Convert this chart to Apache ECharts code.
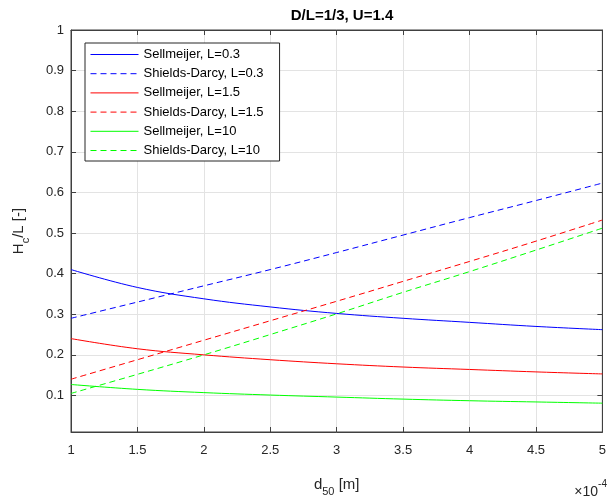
<!DOCTYPE html>
<html><head><meta charset="utf-8">
<script src="https://cdn.jsdelivr.net/npm/echarts@6/dist/echarts.min.js"></script>
<style>html,body{margin:0;padding:0;background:#fff}#c{width:609px;height:502px}</style>
</head><body><div id="c"></div>
<script>
const d50 = [1, 1.5, 2, 2.5, 3, 3.5, 4, 4.5, 5];
const sellL03 = [0.410, 0.366, 0.338, 0.318, 0.302, 0.290, 0.280, 0.270, 0.262];
const shieldsL03 = [0.290, 0.330, 0.370, 0.410, 0.452, 0.495, 0.538, 0.580, 0.623];
const sellL15 = [0.240, 0.215, 0.200, 0.188, 0.178, 0.170, 0.164, 0.158, 0.153];
const shieldsL15 = [0.140, 0.188, 0.236, 0.284, 0.332, 0.381, 0.430, 0.480, 0.532];
const sellL10 = [0.127, 0.115, 0.107, 0.101, 0.096, 0.091, 0.087, 0.084, 0.081];
const shieldsL10 = [0.105, 0.152, 0.200, 0.250, 0.301, 0.354, 0.405, 0.458, 0.512];
const yTicks = [0.1, 0.2, 0.3, 0.4, 0.5, 0.6, 0.7, 0.8, 0.9, 1];
const yMin = 0.01, yMax = 1, xMin = 1, xMax = 5, xStep = 0.5;
const names = ['Sellmeijer, L=0.3','Shields-Darcy, L=0.3','Sellmeijer, L=1.5','Shields-Darcy, L=1.5','Sellmeijer, L=10','Shields-Darcy, L=10'];

const FONT = '"Liberation Sans", Arial, sans-serif';
const axCol = '#404040';
const gridCol = '#e3e3e3';
function mk(name, vals, color, dashed) {
  return {
    name, type: 'line', xAxisIndex: 0, yAxisIndex: 0,
    data: d50.map((x, i) => [x, vals[i]]),
    smooth: 0.4, showSymbol: false, symbol: 'none',
    lineStyle: { color, width: 1, type: dashed ? [6, 4] : 'solid' },
    itemStyle: { color }, animation: false
  };
}
const chart = echarts.init(document.getElementById('c'), null, { renderer: 'canvas' });
const xCommon = { type: 'value', min: xMin, max: xMax, interval: xStep };
const yCommon = { type: 'value', min: yMin, max: yMax,
  axisTick: { inside: true, length: 5, customValues: yTicks, lineStyle: { color: axCol } },
  axisLabel: { customValues: yTicks } };
chart.setOption({
  animation: false,
  textStyle: { fontFamily: FONT },
  title: { text: 'D/L=1/3, U=1.4', left: 337, top: 3, textAlign: 'center',
    textStyle: { fontSize: 15, fontWeight: 'bold', color: '#000', fontFamily: FONT } },
  grid: { left: 71, right: 5, top: 30, bottom: 56, show: true, borderColor: axCol, borderWidth: 1, backgroundColor: '#fff' },
  legend: {
    orient: 'vertical', left: 85, top: 43, data: names,
    itemWidth: 48, itemHeight: 14, itemGap: 6.2, padding: [5, 16, 4, 5],
    borderColor: '#262626', borderWidth: 1, backgroundColor: '#fff',
    textStyle: { fontSize: 13, color: '#000', fontFamily: FONT },
    itemStyle: { opacity: 0 },
    lineStyle: { width: 1 },
    selectedMode: false
  },
  xAxis: [
    Object.assign({}, xCommon, { position: 'bottom',
      name: '{a|d}{b|50}{a| [m]}', nameLocation: 'middle', nameGap: 41,
      nameTextStyle: { color: '#262626', rich: {
        a: { fontSize: 15, fontFamily: FONT, color: '#262626', lineHeight: 24, verticalAlign: 'middle' },
        b: { fontSize: 11, fontFamily: FONT, color: '#262626', lineHeight: 24, verticalAlign: 'bottom' } } },
      axisLine: { show: true, lineStyle: { color: axCol } },
      axisTick: { inside: true, length: 5, lineStyle: { color: axCol } },
      axisLabel: { color: '#262626', fontSize: 13, margin: 12, formatter: v => String(v) },
      splitLine: { show: true, lineStyle: { color: gridCol, width: 1 } } }),
    Object.assign({}, xCommon, { position: 'top',
      axisLine: { show: true, lineStyle: { color: axCol } },
      axisTick: { inside: true, length: 5, lineStyle: { color: axCol } },
      axisLabel: { show: false }, splitLine: { show: false } })
  ],
  yAxis: [
    Object.assign({}, yCommon, { position: 'left',
      name: '{a|H}{b|c}{a|/L [-]}', nameLocation: 'middle', nameGap: 40, nameRotate: 90,
      nameTextStyle: { color: '#262626', rich: {
        a: { fontSize: 15, fontFamily: FONT, color: '#262626', lineHeight: 24, verticalAlign: 'middle' },
        b: { fontSize: 11, fontFamily: FONT, color: '#262626', lineHeight: 24, verticalAlign: 'bottom' } } },
      axisLine: { show: true, lineStyle: { color: axCol } },
      axisLabel: { customValues: yTicks, color: '#262626', fontSize: 13, margin: 7, formatter: v => String(+v.toFixed(2)) },
      splitLine: { show: true, lineStyle: { color: gridCol, width: 1 } } }),
    Object.assign({}, yCommon, { position: 'right',
      axisLine: { show: true, lineStyle: { color: axCol } },
      axisLabel: { show: false }, splitLine: { show: false } })
  ],
  graphic: [{
    type: 'text', right: 2, top: 479,
    style: { text: '{a|×10}{b|-4}', rich: {
      a: { fontSize: 14, fontFamily: FONT, fill: '#262626', lineHeight: 20, verticalAlign: 'bottom' },
      b: { fontSize: 10, fontFamily: FONT, fill: '#262626', lineHeight: 20, verticalAlign: 'top' } } }
  }],
  series: [
    mk(names[0], sellL03, '#0000ff', false),
    mk(names[1], shieldsL03, '#0000ff', true),
    mk(names[2], sellL15, '#ff0000', false),
    mk(names[3], shieldsL15, '#ff0000', true),
    mk(names[4], sellL10, '#00ff00', false),
    mk(names[5], shieldsL10, '#00ff00', true)
  ]
});
</script></body></html>
